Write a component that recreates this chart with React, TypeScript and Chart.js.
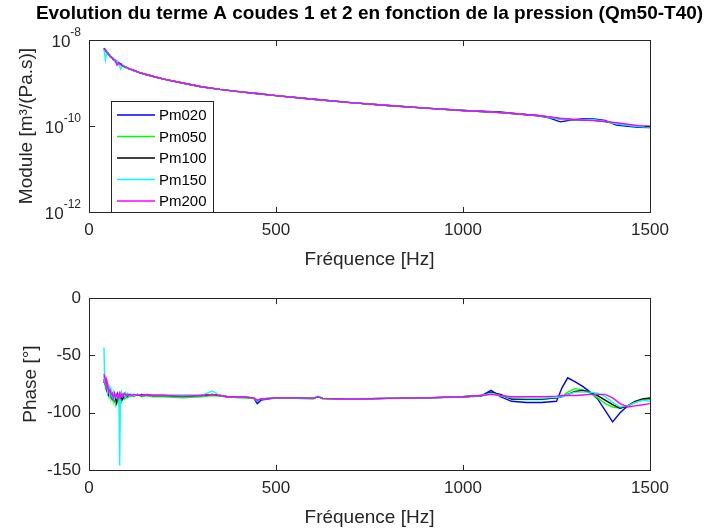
import React, { useEffect, useRef } from 'react';
import { Chart, registerables } from 'chart.js';

Chart.register(...registerables);

const FONT = "'Liberation Sans', Arial, Helvetica, sans-serif";
const INK = '#262626';

const TITLE = 'Evolution du terme A coudes 1 et 2 en fonction de la pression (Qm50-T40)';
const X_LABEL = 'Fréquence [Hz]';
const MODULE_LABEL = 'Module [m³/(Pa.s)]';
const PHASE_LABEL = 'Phase [°]';

const seriesNames = ['Pm020', 'Pm050', 'Pm100', 'Pm150', 'Pm200'];
const seriesColors = ['#0000ff', '#00ff00', '#000000', '#00ffff', '#ff00ff'];

const freqTicks = [0, 500, 1000, 1500];
const moduleTicks = [1e-12, 1e-10, 1e-8];
const moduleTickExp = ['-12', '-10', '-8'];
const phaseTicks = [-150, -100, -50, 0];

// Module (units of 1e-10 m3/(Pa.s))
const modFreq = [40, 44, 48, 52, 56, 60, 65, 70, 75, 80, 85, 90, 100, 110, 120, 135, 150, 175, 200, 250, 300, 350, 400, 450, 500, 600, 700, 800, 900, 1000, 1050, 1100, 1150, 1200, 1230, 1260, 1290, 1320, 1350, 1380, 1410, 1440, 1470, 1500];
const modPm020 = [62, 57, 50, 46, 44, 39, 35, 33, 30, 28.5, 27, 25, 23, 21, 19.5, 17.5, 16, 14, 12.3, 10, 8.2, 7.1, 6.3, 5.6, 5.1, 4.2, 3.5, 3.0, 2.6, 2.3, 2.2, 2.12, 1.9, 1.72, 1.55, 1.25, 1.38, 1.48, 1.45, 1.35, 1.05, 0.98, 0.93, 0.92];
const modPm050 = [63, 60, 48, 50, 41, 41, 35, 34, 30, 30, 26, 26, 23, 21, 19.5, 17.5, 16, 14, 12.3, 10, 8.2, 7.1, 6.3, 5.7, 5.1, 4.2, 3.5, 3.0, 2.6, 2.3, 2.17, 2.05, 1.9, 1.74, 1.6, 1.45, 1.4, 1.4, 1.36, 1.25, 1.12, 1.04, 0.98, 0.94];
const modPm100 = [65, 58, 53, 46, 44, 39, 37, 32, 32, 28, 28, 25, 22.5, 21, 19.5, 17.5, 16, 14, 12.3, 10, 8.2, 7.1, 6.3, 5.7, 5.1, 4.2, 3.5, 3.0, 2.6, 2.3, 2.17, 2.05, 1.9, 1.75, 1.62, 1.48, 1.42, 1.4, 1.35, 1.28, 1.15, 1.05, 0.98, 0.97];
const modPm150 = [60, 34, 55, 45, 45, 38, 38, 30, 33, 27, 21, 27, 22, 21.5, 19, 17.5, 16, 14, 12.3, 10, 8.2, 7.1, 6.3, 5.7, 5.1, 4.2, 3.5, 3.0, 2.6, 2.3, 2.17, 2.05, 1.9, 1.74, 1.6, 1.46, 1.42, 1.42, 1.4, 1.3, 1.14, 1.04, 0.97, 0.95];
const modPm200 = [64, 58, 51, 48, 42, 40, 36, 34, 26, 30, 27, 25, 23, 21, 19.5, 17.5, 16, 14, 12.3, 10, 8.2, 7.1, 6.3, 5.7, 5.1, 4.2, 3.5, 3.0, 2.6, 2.3, 2.17, 2.05, 1.9, 1.76, 1.63, 1.52, 1.44, 1.38, 1.33, 1.27, 1.2, 1.1, 1.02, 0.97];

// Phase (degrees)
const phaseFreq = [40, 42, 44, 46, 48, 50, 53, 56, 59, 62, 65, 68, 71, 74, 77, 80, 82, 84, 87, 90, 94, 98, 102, 106, 110, 115, 120, 130, 140, 155, 170, 200, 250, 300, 330, 350, 370, 400, 440, 450, 460, 500, 550, 600, 612, 625, 700, 800, 900, 1000, 1050, 1075, 1100, 1130, 1170, 1210, 1250, 1265, 1280, 1300, 1320, 1340, 1360, 1380, 1400, 1420, 1440, 1460, 1480, 1500];
const phasePm020 = [
  -72, -70, -74, -73, -77, -80, -78, -84, -82, -86,
  -83, -88, -85, -90, -86, -89, -85, -87, -86, -84,
  -87, -85, -86, -84, -85, -85, -84, -85, -84, -85,
  -85, -85, -86, -85, -84.5, -85, -86, -86, -87, -92,
  -89, -87, -87, -87.5, -86, -87.5, -88, -87.5, -87, -86,
  -85, -80.5, -86, -90, -91, -91, -90, -78, -69.5, -73,
  -77, -82, -88, -98, -108, -100, -94, -91, -89, -88,
];
const phasePm050 = [
  -68, -72, -78, -80, -75, -83, -86, -80, -88, -84,
  -90, -84, -92, -86, -89, -93, -87, -84, -90, -86,
  -88, -83, -87, -85, -86, -84, -86, -84, -86, -85,
  -86, -86, -87, -86, -85, -85.5, -86, -87, -87.5, -89,
  -88, -87.5, -87.5, -88, -86, -88, -88, -87.5, -87, -86.5,
  -85.5, -83, -85, -88, -88.5, -88.5, -87, -86, -82, -79,
  -80, -83, -87, -92, -95, -96, -94, -91, -89, -88,
];
const phasePm100 = [
  -74, -71, -76, -79, -81, -77, -84, -82, -86, -88,
  -84, -89, -86, -91, -84, -88, -86, -90, -85, -88,
  -84, -87, -85, -86, -84, -85, -85, -84, -85, -84,
  -85, -85, -85, -85, -84, -85, -86, -86, -87, -90,
  -88, -87, -87, -87.5, -86, -87.5, -88, -87.5, -87, -86,
  -85, -82, -84, -88, -88, -88, -87, -86, -84, -81.5,
  -80.5, -82, -85, -89, -93, -96, -94, -90, -88, -87,
];
const phasePm150 = [
  -43, -72, -70, -79, -74, -82, -77, -85, -80, -87,
  -82, -88, -84, -87, -85, -86, -146, -88, -82, -86,
  -84, -87, -83, -86, -85, -84, -85, -84, -85, -84.5,
  -85, -85, -85, -85, -81, -85, -86, -86, -87, -90,
  -88, -87, -87, -87.5, -85.5, -87.5, -88, -87.5, -87, -86,
  -85, -83, -85, -87, -87.5, -87.5, -86.5, -86, -84, -82,
  -82, -82, -83, -86, -91, -95, -94, -91, -89, -90,
];
const phasePm200 = [
  -66, -69, -73, -71, -78, -76, -82, -80, -84, -83,
  -87, -83, -86, -84, -88, -85, -83, -87, -84, -86,
  -83, -85, -84, -85, -84, -85, -84, -84.5, -85, -84.5,
  -85, -85, -85.5, -85, -84, -85, -86, -86, -87, -89,
  -88, -87, -87, -87.5, -86, -87.5, -88, -87.5, -87, -86,
  -85, -84, -85, -86, -86, -86, -85.5, -85, -85, -85,
  -84.5, -84, -84, -84, -87, -92, -95, -94, -93, -92,
];

const moduleSeries = [modPm020, modPm050, modPm100, modPm150, modPm200];
const phaseSeries = [phasePm020, phasePm050, phasePm100, phasePm150, phasePm200];

const TICK_LEN = 5.6;
const LINE_W = 1.4;

function makeDecor(opts: {
  yLabel: string;
  yLabelX: number;
  yTicks: number[];
  logLabels?: boolean;
  title?: string;
  legend?: boolean;
}) {
  return {
    id: 'matlabDecor',
    afterDraw(chart: any) {
      const ctx = chart.ctx as CanvasRenderingContext2D;
      const ca = chart.chartArea;
      const xs = chart.scales.x;
      const ys = chart.scales.y;
      ctx.save();
      // legend
      if (opts.legend) {
        const lx = ca.left + 22;
        const h = 111;
        const top = ca.bottom - h;
        const w = 102;
        ctx.fillStyle = '#ffffff';
        ctx.fillRect(lx, top, w, h);
        ctx.strokeStyle = INK;
        ctx.lineWidth = 1;
        ctx.strokeRect(Math.round(lx) + 0.5, Math.round(top) + 0.5, w, h);
        ctx.font = `15px ${FONT}`;
        ctx.textAlign = 'left';
        ctx.textBaseline = 'middle';
        seriesNames.forEach((name, i) => {
          const ry = top + 14 + i * 21.5;
          ctx.strokeStyle = seriesColors[i];
          ctx.lineWidth = LINE_W;
          ctx.beginPath();
          ctx.moveTo(lx + 6, ry);
          ctx.lineTo(lx + 44, ry);
          ctx.stroke();
          ctx.fillStyle = '#000000';
          ctx.fillText(name, lx + 48, ry + 1);
        });
      }
      // box
      ctx.strokeStyle = INK;
      ctx.lineWidth = 1;
      const L = Math.round(ca.left) + 0.5;
      const R = Math.round(ca.right) + 0.5;
      const T = Math.round(ca.top) + 0.5;
      const B = Math.round(ca.bottom) + 0.5;
      ctx.strokeRect(L, T, R - L, B - T);
      ctx.beginPath();
      freqTicks.forEach((v) => {
        const px = Math.round(xs.getPixelForValue(v)) + 0.5;
        ctx.moveTo(px, B);
        ctx.lineTo(px, B - TICK_LEN);
        ctx.moveTo(px, T);
        ctx.lineTo(px, T + TICK_LEN);
      });
      opts.yTicks.forEach((v) => {
        const py = Math.round(ys.getPixelForValue(v)) + 0.5;
        ctx.moveTo(L, py);
        ctx.lineTo(L + TICK_LEN, py);
        ctx.moveTo(R, py);
        ctx.lineTo(R - TICK_LEN, py);
      });
      ctx.stroke();
      ctx.fillStyle = INK;
      // log tick labels with superscript exponents
      if (opts.logLabels) {
        ctx.textAlign = 'right';
        ctx.textBaseline = 'middle';
        opts.yTicks.forEach((v, i) => {
          const py = ys.getPixelForValue(v);
          const right = ca.left - 8;
          const ex = moduleTickExp[i];
          ctx.font = `12px ${FONT}`;
          const ew = ctx.measureText(ex).width;
          ctx.fillText(ex, right, py - 7);
          ctx.font = `17px ${FONT}`;
          ctx.fillText('10', right - ew, py + 2);
        });
      }
      // x label
      ctx.font = `19px ${FONT}`;
      ctx.textAlign = 'center';
      ctx.textBaseline = 'middle';
      ctx.fillText(X_LABEL, (ca.left + ca.right) / 2, ca.bottom + 48);
      // y label
      ctx.save();
      ctx.translate(opts.yLabelX, (ca.top + ca.bottom) / 2);
      ctx.rotate(-Math.PI / 2);
      ctx.fillText(opts.yLabel, 0, 0);
      ctx.restore();
      // title
      if (opts.title) {
        ctx.font = `bold 19px ${FONT}`;
        ctx.fillStyle = '#000000';
        ctx.fillText(opts.title, (ca.left + ca.right) / 2, 14);
      }
      ctx.restore();
    },
  };
}

const xScale = (height: number) => ({
  type: 'linear',
  min: 0,
  max: 1500,
  afterBuildTicks: (s: any) => {
    s.ticks = freqTicks.map((v) => ({ value: v }));
  },
  afterFit: (s: any) => {
    s.height = height;
  },
  grid: { display: false, drawTicks: false },
  border: { display: false },
  ticks: {
    font: { family: FONT, size: 17 },
    color: INK,
    padding: 8,
    maxRotation: 0,
    autoSkip: false,
    callback: (v: any) => String(v),
  },
});

function moduleConfig(): any {
  return {
    type: 'line',
    data: {
      datasets: moduleSeries.map((vals, i) => ({
        label: seriesNames[i],
        data: modFreq.map((f, k) => ({ x: f, y: vals[k] * 1e-10 })),
        borderColor: seriesColors[i],
        backgroundColor: seriesColors[i],
        borderWidth: LINE_W,
        pointRadius: 0,
        fill: false,
        tension: 0,
        order: 4 - i,
      })),
    },
    options: {
      animation: false,
      responsive: false,
      events: [],
      layout: { padding: { top: 40, right: 63, bottom: 0, left: 0 } },
      plugins: { legend: { display: false }, tooltip: { enabled: false }, title: { display: false } },
      scales: {
        x: xScale(68),
        y: {
          type: 'logarithmic',
          min: 1e-12,
          max: 1e-8,
          afterBuildTicks: (s: any) => {
            s.ticks = moduleTicks.map((v) => ({ value: v }));
          },
          afterFit: (s: any) => {
            s.width = 89;
          },
          grid: { display: false, drawTicks: false },
          border: { display: false },
          ticks: { display: false },
        },
      },
    },
    plugins: [makeDecor({ yLabel: MODULE_LABEL, yLabelX: 27, yTicks: moduleTicks, logLabels: true, title: TITLE, legend: true })],
  };
}

function phaseConfig(): any {
  return {
    type: 'line',
    data: {
      datasets: phaseSeries.map((vals, i) => ({
        label: seriesNames[i],
        data: phaseFreq.map((f, k) => ({ x: f, y: vals[k] })),
        borderColor: seriesColors[i],
        backgroundColor: seriesColors[i],
        borderWidth: LINE_W,
        pointRadius: 0,
        fill: false,
        tension: 0,
        order: 4 - i,
      })),
    },
    options: {
      animation: false,
      responsive: false,
      events: [],
      layout: { padding: { top: 17, right: 63, bottom: 0, left: 0 } },
      plugins: { legend: { display: false }, tooltip: { enabled: false }, title: { display: false } },
      scales: {
        x: xScale(61),
        y: {
          type: 'linear',
          min: -150,
          max: 0,
          afterBuildTicks: (s: any) => {
            s.ticks = phaseTicks.map((v) => ({ value: v }));
          },
          afterFit: (s: any) => {
            s.width = 89;
          },
          grid: { display: false, drawTicks: false },
          border: { display: false },
          ticks: { font: { family: FONT, size: 17 }, color: INK, padding: 8, callback: (v: any) => String(v) },
        },
      },
    },
    plugins: [makeDecor({ yLabel: PHASE_LABEL, yLabelX: 31, yTicks: [-100, -50] })],
  };
}

function ChartCanvas({ width, height, makeConfig }: { width: number; height: number; makeConfig: () => any }) {
  const ref = useRef<HTMLCanvasElement | null>(null);
  useEffect(() => {
    if (!ref.current) return;
    const chart = new Chart(ref.current, makeConfig());
    return () => chart.destroy();
  }, []);
  return <canvas ref={ref} width={width} height={height} style={{ display: 'block', width, height }} />;
}

export default function App() {
  return (
    <div style={{ position: 'fixed', left: 0, top: 0, width: 713, height: 531, background: '#ffffff' }}>
      <ChartCanvas width={713} height={280} makeConfig={moduleConfig} />
      <ChartCanvas width={713} height={251} makeConfig={phaseConfig} />
    </div>
  );
}
